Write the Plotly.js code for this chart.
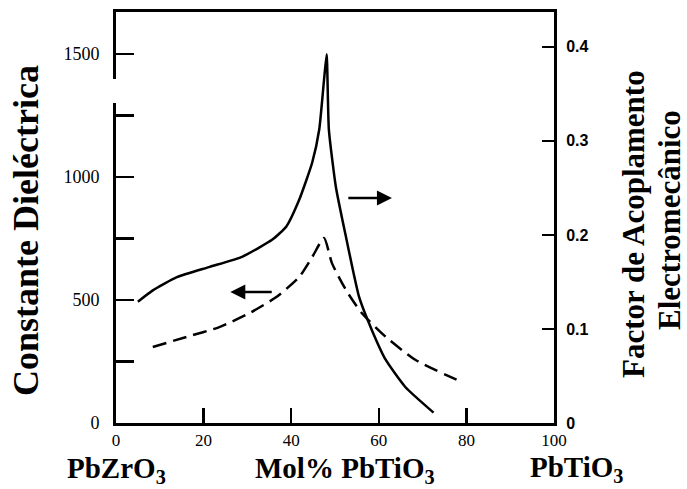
<!DOCTYPE html>
<html>
<head>
<meta charset="utf-8">
<script src="https://cdn.plot.ly/plotly-3.0.1.min.js"></script>
<style>html,body{margin:0;padding:0;background:#fff;}#chart{width:687px;height:489px;}</style>
</head>
<body>
<div id="chart"></div>
<script>
// Coupling factor (solid, right axis)
const kX = [5, 8.4, 13.9, 21.4, 28.9, 35.7, 38.9, 41.8, 44.8, 46.4, 47.5, 48.1, 48.6, 50.2, 52.5, 55.5, 58.4, 61.6, 66.1, 72.5];
const kY = [0.129, 0.141, 0.155, 0.166, 0.177, 0.195, 0.209, 0.237, 0.277, 0.312, 0.365, 0.392, 0.312, 0.251, 0.198, 0.134, 0.099, 0.067, 0.038, 0.011];
// Dielectric constant (dashed, left axis)
const eX = [8.4, 16.1, 23.6, 30.5, 36.6, 41.8, 44.8, 47.5, 49.3, 52.5, 56.1, 61.6, 68.4, 78.9];
const eY = [309, 350, 390, 447, 512, 593, 675, 752, 650, 541, 447, 350, 256, 167];

const xTicks = [0, 20, 40, 60, 80, 100];
const leftTicks = [0, 500, 1000, 1500];
const leftMinorTicks = [250, 750, 1250];
const rightTicks = [0, 0.1, 0.2, 0.3, 0.4];
const rightTickText = ['0', '0.1', '0.2', '0.3', '0.4'];

const serif = 'Liberation Serif, Times New Roman, serif';
const traces = [
  {x: eX, y: eY, mode: 'lines', line: {color: '#000', width: 2.5, dash: '14px,7px', shape: 'spline', smoothing: 0.6}, yaxis: 'y', hoverinfo: 'skip'},
  {x: kX, y: kY, mode: 'lines', line: {color: '#000', width: 2.5, shape: 'spline', smoothing: 0.5}, yaxis: 'y2', hoverinfo: 'skip'}
];

function px2paperX(p) { return (p - 116) / 438; }
function px2paperY(p) { return (423 - p) / 411; }

const layout = {
  width: 687, height: 489,
  margin: {l: 116, r: 133, t: 12, b: 66},
  paper_bgcolor: '#fff', plot_bgcolor: '#fff',
  showlegend: false,
  xaxis: {
    range: [0, 100], tickvals: xTicks, ticks: 'inside', ticklen: 15, tickwidth: 2.5, tickcolor: '#000',
    showline: true, linewidth: 3, linecolor: '#000', mirror: true, showgrid: false, zeroline: false,
    tickfont: {family: serif, size: 17, color: '#000'}, ticklabelstandoff: 0
  },
  yaxis: {
    range: [0, 1671], tickvals: leftTicks, ticks: 'inside', ticklen: 18, tickwidth: 2.5, tickcolor: '#000',
    minor: {tickvals: leftMinorTicks, ticks: 'inside', ticklen: 18, tickwidth: 2.5, tickcolor: '#000', showgrid: false},
    showline: true, linewidth: 3, linecolor: '#000', showgrid: false, zeroline: false,
    tickfont: {family: serif, size: 18, color: '#000'}, ticklabelstandoff: 10
  },
  yaxis2: {
    range: [0, 0.437], overlaying: 'y', side: 'right', tickvals: rightTicks, ticktext: rightTickText,
    ticks: 'inside', ticklen: 12, tickwidth: 2.5, tickcolor: '#000',
    showline: true, linewidth: 3, linecolor: '#000', showgrid: false, zeroline: false,
    tickfont: {family: 'Liberation Sans, Arial, sans-serif', size: 16, color: '#000', weight: 'bold'}, ticklabelstandoff: 6
  },
  shapes: [
    {type: 'rect', xref: 'paper', yref: 'paper', x0: px2paperX(108), x1: px2paperX(122), y0: px2paperY(103), y1: px2paperY(79),
     fillcolor: '#fff', line: {width: 0}, layer: 'above'}
  ],
  annotations: [
    {xref: 'x', yref: 'y', axref: 'x', ayref: 'y', x: 63, y: 915, ax: 52.7, ay: 915, showarrow: true, arrowhead: 2, arrowsize: 1.2, arrowwidth: 2.5, arrowcolor: '#000', text: ''},
    {xref: 'x', yref: 'y', axref: 'x', ayref: 'y', x: 26.1, y: 533, ax: 35.9, ay: 533, showarrow: true, arrowhead: 2, arrowsize: 1.2, arrowwidth: 2.5, arrowcolor: '#000', text: ''},
    {xref: 'paper', yref: 'paper', x: px2paperX(26), y: px2paperY(231), text: 'Constante Dieléctrica', textangle: -90, showarrow: false,
     font: {family: serif, size: 36, color: '#000', weight: 'bold'}, xanchor: 'center', yanchor: 'middle'},
    {xref: 'paper', yref: 'paper', x: px2paperX(633), y: px2paperY(224), text: 'Factor de Acoplamento', textangle: -90, showarrow: false,
     font: {family: serif, size: 31, color: '#000', weight: 'bold'}, xanchor: 'center', yanchor: 'middle'},
    {xref: 'paper', yref: 'paper', x: px2paperX(669), y: px2paperY(220), text: 'Electromecânico', textangle: -90, showarrow: false,
     font: {family: serif, size: 31, color: '#000', weight: 'bold'}, xanchor: 'center', yanchor: 'middle'},
    {xref: 'paper', yref: 'paper', x: px2paperX(116), y: px2paperY(470), text: 'PbZrO<sub>3</sub>', showarrow: false, borderpad: 0,
     font: {family: serif, size: 29, color: '#000', weight: 'bold'}, xanchor: 'center', yanchor: 'middle'},
    {xref: 'paper', yref: 'paper', x: px2paperX(345), y: px2paperY(470), text: 'Mol% PbTiO<sub>3</sub>', showarrow: false, borderpad: 0,
     font: {family: serif, size: 29, color: '#000', weight: 'bold'}, xanchor: 'center', yanchor: 'middle'},
    {xref: 'paper', yref: 'paper', x: px2paperX(576), y: px2paperY(469), text: 'PbTiO<sub>3</sub>', showarrow: false, borderpad: 0,
     font: {family: serif, size: 29, color: '#000', weight: 'bold'}, xanchor: 'center', yanchor: 'middle'}
  ]
};

Plotly.newPlot('chart', traces, layout, {displayModeBar: false, staticPlot: true});
</script>
</body>
</html>
